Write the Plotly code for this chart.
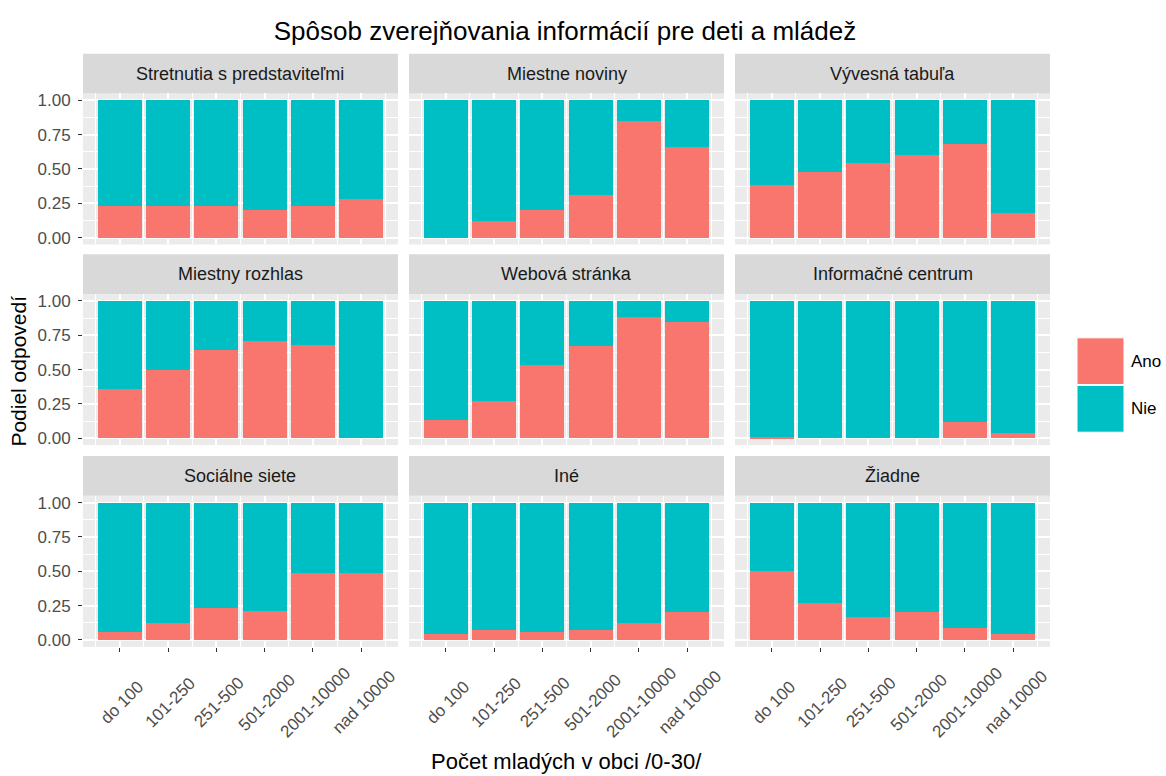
import plotly.graph_objects as go

# ---------------------------------------------------------------------------
# DATA
# ---------------------------------------------------------------------------
categories = ['do 100', '101-250', '251-500', '501-2000', '2001-10000', 'nad 10000']

panels = ['Stretnutia s predstaviteľmi', 'Miestne noviny', 'Vývesná tabuľa',
          'Miestny rozhlas', 'Webová stránka', 'Informačné centrum',
          'Sociálne siete', 'Iné', 'Žiadne']

ano_stretnutia = [0.23, 0.23, 0.23, 0.20, 0.23, 0.28]
ano_noviny = [0.00, 0.12, 0.20, 0.31, 0.85, 0.66]
ano_tabula = [0.38, 0.48, 0.54, 0.60, 0.68, 0.18]
ano_rozhlas = [0.36, 0.50, 0.64, 0.71, 0.68, 0.00]
ano_web = [0.13, 0.27, 0.53, 0.67, 0.88, 0.85]
ano_centrum = [0.01, 0.00, 0.00, 0.00, 0.12, 0.04]
ano_siete = [0.06, 0.12, 0.23, 0.21, 0.49, 0.49]
ano_ine = [0.04, 0.075, 0.06, 0.075, 0.12, 0.20]
ano_ziadne = [0.50, 0.27, 0.17, 0.20, 0.09, 0.04]

nie_stretnutia = [0.77, 0.77, 0.77, 0.80, 0.77, 0.72]
nie_noviny = [1.00, 0.88, 0.80, 0.69, 0.15, 0.34]
nie_tabula = [0.62, 0.52, 0.46, 0.40, 0.32, 0.82]
nie_rozhlas = [0.64, 0.50, 0.36, 0.29, 0.32, 1.00]
nie_web = [0.87, 0.73, 0.47, 0.33, 0.12, 0.15]
nie_centrum = [0.99, 1.00, 1.00, 1.00, 0.88, 0.96]
nie_siete = [0.94, 0.88, 0.77, 0.79, 0.51, 0.51]
nie_ine = [0.96, 0.925, 0.94, 0.925, 0.88, 0.80]
nie_ziadne = [0.50, 0.73, 0.83, 0.80, 0.91, 0.96]

ano_all = [ano_stretnutia, ano_noviny, ano_tabula, ano_rozhlas, ano_web,
           ano_centrum, ano_siete, ano_ine, ano_ziadne]
nie_all = [nie_stretnutia, nie_noviny, nie_tabula, nie_rozhlas, nie_web,
           nie_centrum, nie_siete, nie_ine, nie_ziadne]

y_ticks = [0, 0.25, 0.5, 0.75, 1.0]
y_ticktext = ['0.00', '0.25', '0.50', '0.75', '1.00']

# ---------------------------------------------------------------------------
# GEOMETRY (page pixels of the ggplot facet grid)
# ---------------------------------------------------------------------------
W, H = 1166, 776


def px(x):
    return x / W


def py(y):
    return 1 - y / H


COL_PX = [(83, 398), (409, 724), (735, 1050)]
ROW_PX = [(92, 244), (294, 446), (497, 649)]   # plot area top/bottom
STRIP_H = 40

COL_ANO = '#F8766D'
COL_NIE = '#00BFC4'
FONT = 'Liberation Sans, Arial, sans-serif'
GREY_TXT = '#4D4D4D'

x_pos = list(range(len(categories)))

fig = go.Figure()
layout = {}
annotations = []
shapes = []

for i, name in enumerate(panels):
    r, c = divmod(i, 3)
    sfx = '' if i == 0 else str(i + 1)
    xa, ya = 'x' + sfx, 'y' + sfx

    fig.add_trace(go.Bar(x=x_pos, y=ano_all[i], name='Ano', marker_color=COL_ANO,
                         marker_line_width=0, xaxis=xa, yaxis=ya, showlegend=False))
    fig.add_trace(go.Bar(x=x_pos, y=nie_all[i], name='Nie', marker_color=COL_NIE,
                         marker_line_width=0, xaxis=xa, yaxis=ya, showlegend=False))

    x0, x1 = COL_PX[c]
    top, bot = ROW_PX[r]
    layout['xaxis' + sfx] = dict(
        domain=[px(x0), px(x1)], anchor=ya, range=[-0.76, 5.76],
        tickvals=x_pos, showticklabels=False,
        ticks='outside' if r == 2 else '', ticklen=4, tickcolor='#333333', tickwidth=1,
        showgrid=True, gridcolor='white', gridwidth=1.5, zeroline=False,
        minor=dict(tick0=-0.5, dtick=1, showgrid=True, gridcolor='white', gridwidth=0.8),
        showline=False, fixedrange=True,
    )
    layout['yaxis' + sfx] = dict(
        domain=[py(bot), py(top)], anchor=xa, range=[-0.05, 1.05],
        tickvals=y_ticks, ticktext=y_ticktext, showticklabels=(c == 0),
        ticks='outside' if c == 0 else '', ticklen=4, tickcolor='#333333', tickwidth=1,
        ticklabelstandoff=4,
        tickfont=dict(size=17, color=GREY_TXT, family=FONT),
        showgrid=True, gridcolor='white', gridwidth=1.5, zeroline=False,
        minor=dict(tick0=0.125, dtick=0.25, showgrid=True, gridcolor='white', gridwidth=0.8),
        showline=False, fixedrange=True,
    )

    # strip (facet header)
    shapes.append(dict(type='rect', xref='paper', yref='paper',
                       x0=px(x0), x1=px(x1), y0=py(top), y1=py(top - STRIP_H),
                       fillcolor='#D9D9D9', line_width=0, layer='below'))
    annotations.append(dict(text=name, xref='paper', yref='paper',
                            x=px((x0 + x1) / 2), y=py(top - STRIP_H / 2),
                            xanchor='center', yanchor='middle', showarrow=False,
                            font=dict(size=18, color='#1A1A1A', family=FONT)))

    # rotated x tick labels, centred under each tick (ggplot style)
    if r == 2:
        for k, cat in enumerate(categories):
            annotations.append(dict(text=cat, xref=xa, yref='paper', x=x_pos[k] + 0.05,
                                    y=py(705), textangle=-45, xanchor='center',
                                    yanchor='middle', showarrow=False,
                                    font=dict(size=17, color=GREY_TXT, family=FONT)))

# axis titles
annotations.append(dict(text='Podiel odpovedí', xref='paper', yref='paper',
                        x=px(19), y=py(372), textangle=-90, showarrow=False,
                        xanchor='center', yanchor='middle',
                        font=dict(size=21, color='black', family=FONT)))
annotations.append(dict(text='Počet mladých v obci /0-30/', xref='paper', yref='paper',
                        x=px(566), y=py(764), showarrow=False,
                        xanchor='center', yanchor='middle',
                        font=dict(size=22, color='black', family=FONT)))

# legend drawn ggplot-style (large keys)
legend_items = [('Ano', COL_ANO, 338), ('Nie', COL_NIE, 386)]
for label, colr, ytop in legend_items:
    shapes.append(dict(type='rect', xref='paper', yref='paper',
                       x0=px(1077), x1=px(1124), y0=py(ytop + 47), y1=py(ytop),
                       fillcolor=colr, line=dict(color='white', width=1)))
    annotations.append(dict(text=label, xref='paper', yref='paper',
                            x=px(1129), y=py(ytop + 23.5), showarrow=False,
                            xanchor='left', yanchor='middle',
                            font=dict(size=17, color='black', family=FONT)))

fig.update_layout(
    **layout,
    barmode='stack',
    bargap=0.09,
    width=W, height=H,
    margin=dict(l=0, r=0, t=0, b=0),
    paper_bgcolor='white',
    plot_bgcolor='#EBEBEB',
    showlegend=False,
    title=dict(text='Spôsob zverejňovania informácií pre deti a mládež',
               x=px(565), xanchor='center', y=py(31), yanchor='middle',
               font=dict(size=26, color='black', family=FONT)),
    font=dict(family=FONT),
    annotations=annotations,
    shapes=shapes,
)

# drop the default 8px body margin so the figure fills the window exactly
fig.write_html('out.html', config={'displayModeBar': False},
               post_script="document.body.style.margin = '0';")
